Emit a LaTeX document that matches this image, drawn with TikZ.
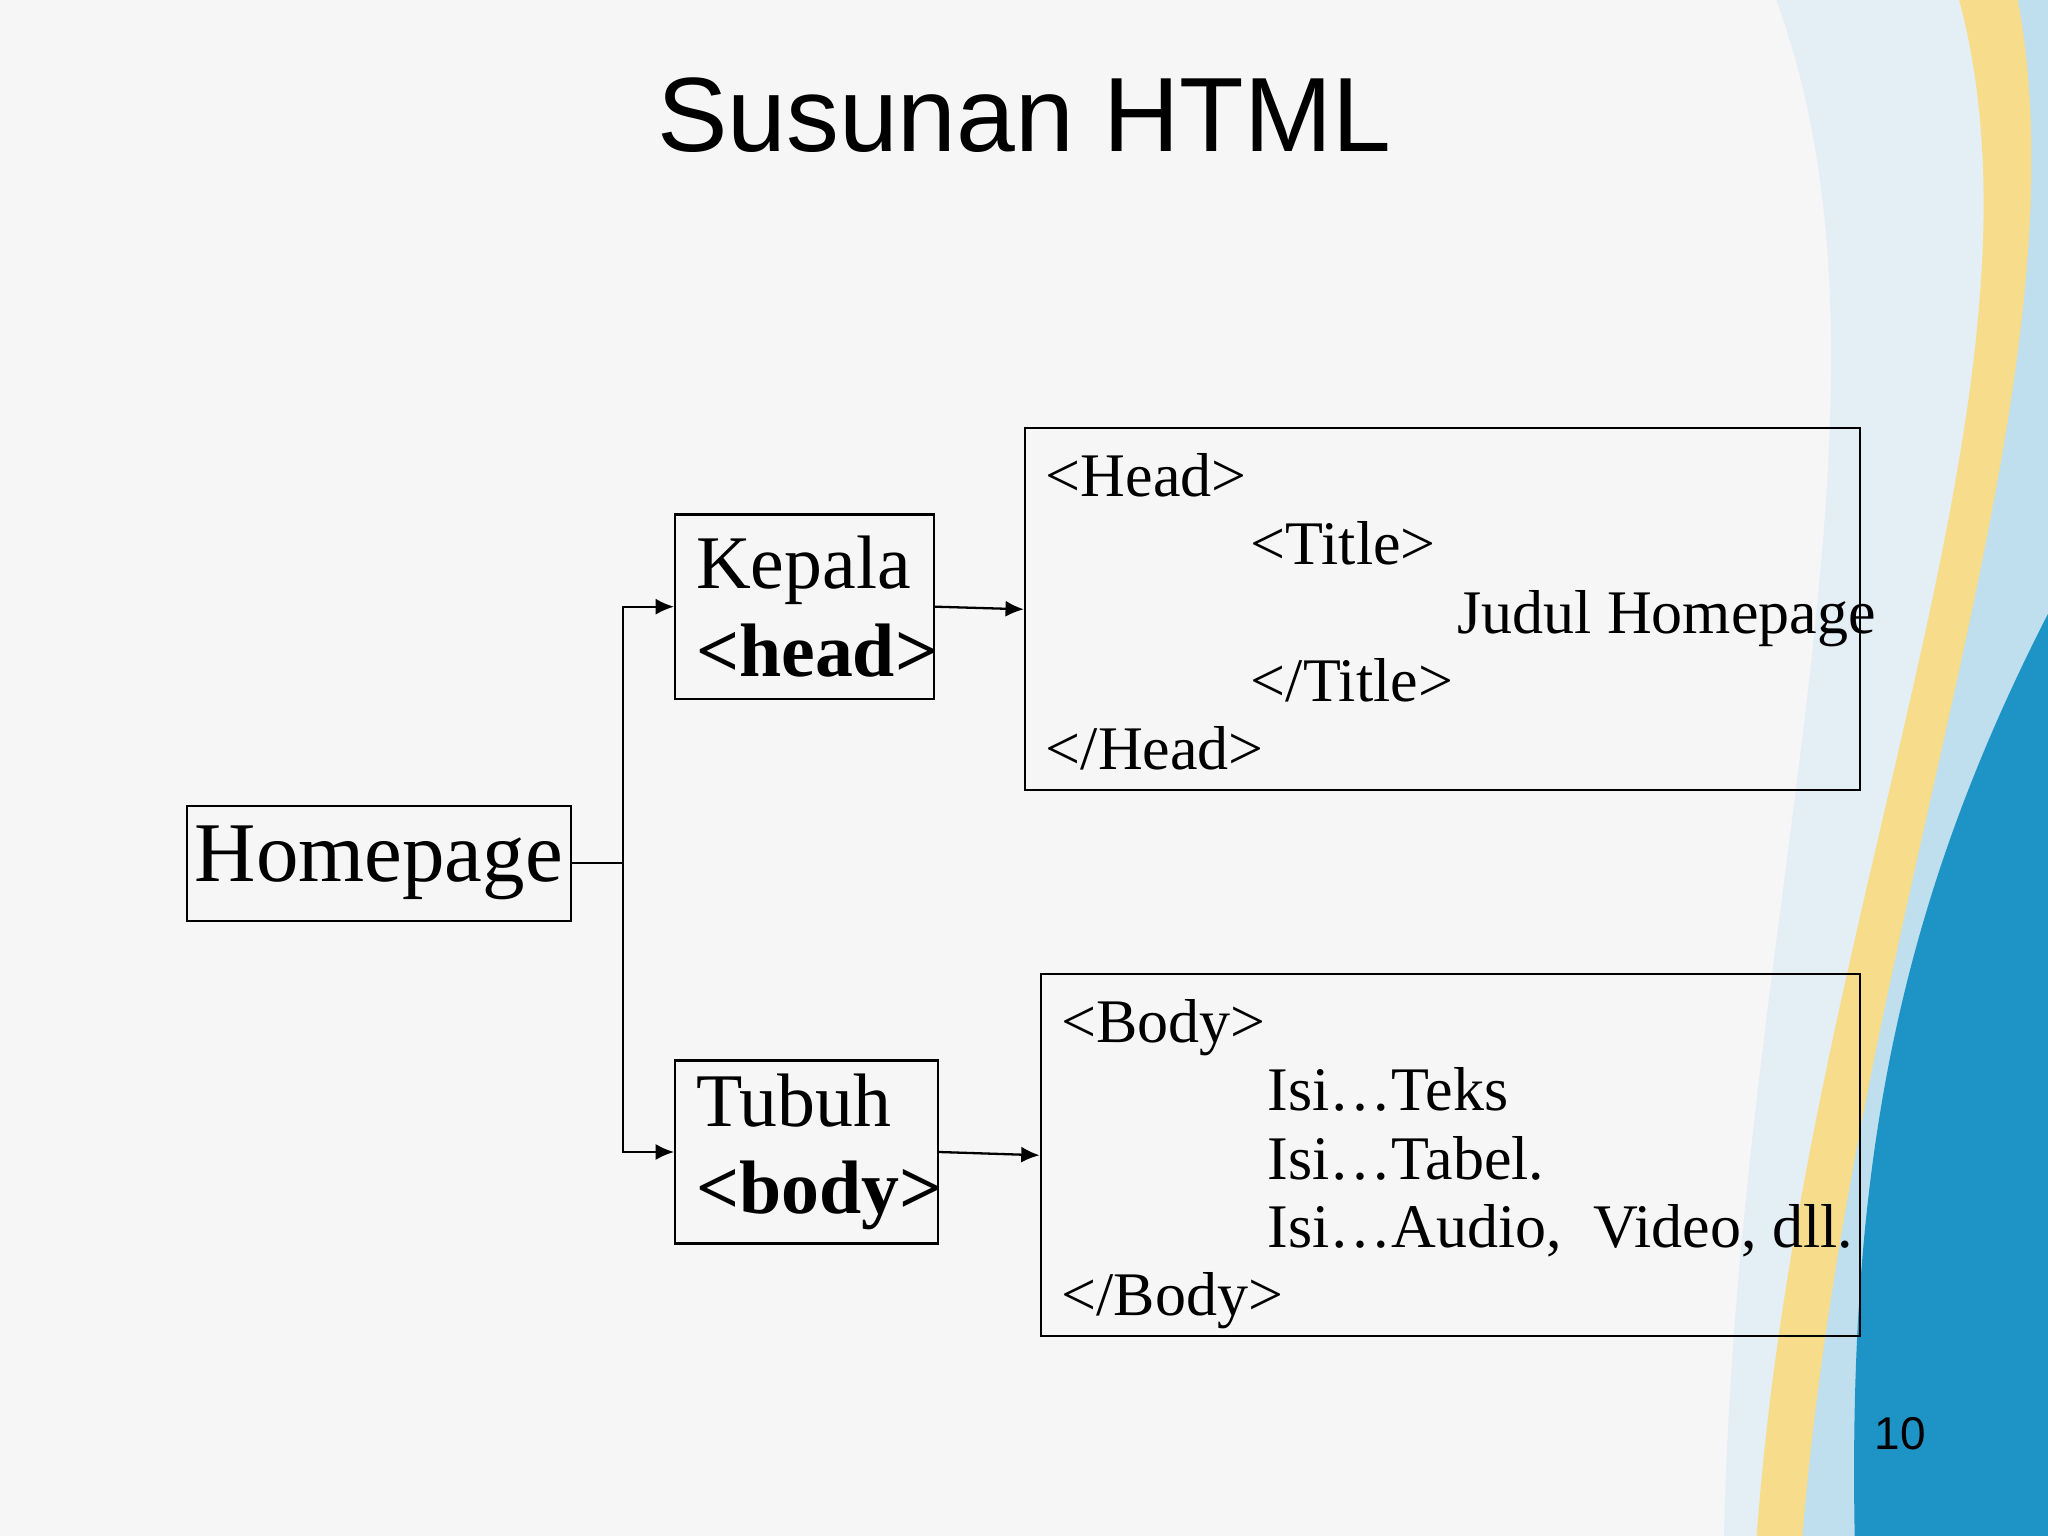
\documentclass[tikz,border=0pt]{standalone}
\usepackage{fontspec}
\usetikzlibrary{arrows.meta}
\setmainfont{Liberation Serif}
\newfontfamily\sansf{Liberation Sans}
\definecolor{bgpale}{HTML}{E4EEF5}
\definecolor{bgyel}{HTML}{F7DC8C}
\definecolor{bglb}{HTML}{BFDFEE}
\definecolor{bgblue}{HTML}{1E93C6}
\begin{document}
\begin{tikzpicture}[x=0.01cm,y=-0.01cm,
  box/.style={draw,line width=0.5pt,inner sep=0pt},
  code/.style={anchor=base west,inner sep=0pt,font=\fontsize{13.5}{15}\selectfont},
  conn/.style={line width=0.5pt},
  arr/.style={conn,-{Latex[length=4pt,width=3.5pt]}}]
\useasboundingbox (0,0) rectangle (1568,1176);
\fill[gray!7] (0,0) rectangle (1568,1176);
\fill[bgpale] (1360,0) .. controls (1470,300) and (1330,700) .. (1320,1176) -- (1568,1176) -- (1568,0) -- cycle;
\fill[bgyel] (1500,0) .. controls (1580,300) and (1380,700) .. (1345,1176) -- (1568,1176) -- (1568,0) -- cycle;
\fill[bglb] (1545,0) .. controls (1600,300) and (1420,700) .. (1380,1176) -- (1568,1176) -- (1568,0) -- cycle;
\fill[bgblue] (1568,470) .. controls (1450,700) and (1415,900) .. (1420,1176) -- (1568,1176) -- cycle;
\node[font=\sansf\fontsize{23}{26}\selectfont] (title) at (784,88) {Susunan HTML};
\node[box,minimum width=2.94cm,minimum height=0.88cm,font=\fontsize{18.5}{20}\selectfont] (home) at (290,661) {Homepage};
\node[box,minimum width=1.98cm,minimum height=1.41cm,inner xsep=0.16cm,text width=1.66cm,align=left,font=\fontsize{16.5}{17}\selectfont] (kep) at (616,464.5) {Kepala\\[2pt]\textbf{<head>}};
\node[box,minimum width=2.01cm,minimum height=1.40cm,inner xsep=0.16cm,text width=1.69cm,align=left,font=\fontsize{16.5}{17}\selectfont] (tub) at (617.5,882) {Tubuh\\[2pt]\textbf{<body>}};
\node[box,minimum width=6.39cm,minimum height=2.77cm] (hb) at (1104.5,466.5) {};
\node[box,minimum width=6.27cm,minimum height=2.77cm] (bb) at (1110.5,884.5) {};
\node[code] (h1) at (800,380) {<Head>};
\node[code] (h2) at (957,432) {<Title>};
\node[code] (h3) at (1115,485) {Judul Homepage};
\node[code] (h4) at (957,537) {</Title>};
\node[code] (h5) at (800,589) {</Head>};
\node[code] (b1) at (812,798) {<Body>};
\node[code] (b2) at (970,850) {Isi…Teks};
\node[code] (b3) at (970,903) {Isi…Tabel.};
\node[code] (b4) at (970,955) {Isi…Audio,\ \ Video, dll.};
\node[code] (b5) at (812,1007) {</Body>};
\node[font=\sansf\fontsize{10}{12}\selectfont] (num) at (1455,1098) {10};
\coordinate (j) at (477,661);
\draw[conn] (home.east) -- (j);
\draw[arr] (j) |- (kep.west);
\draw[arr] (j) |- (tub.west);
\draw[arr] (kep.east) -- (hb.west);
\draw[arr] (tub.east) -- (bb.west);
\end{tikzpicture}
\end{document}
